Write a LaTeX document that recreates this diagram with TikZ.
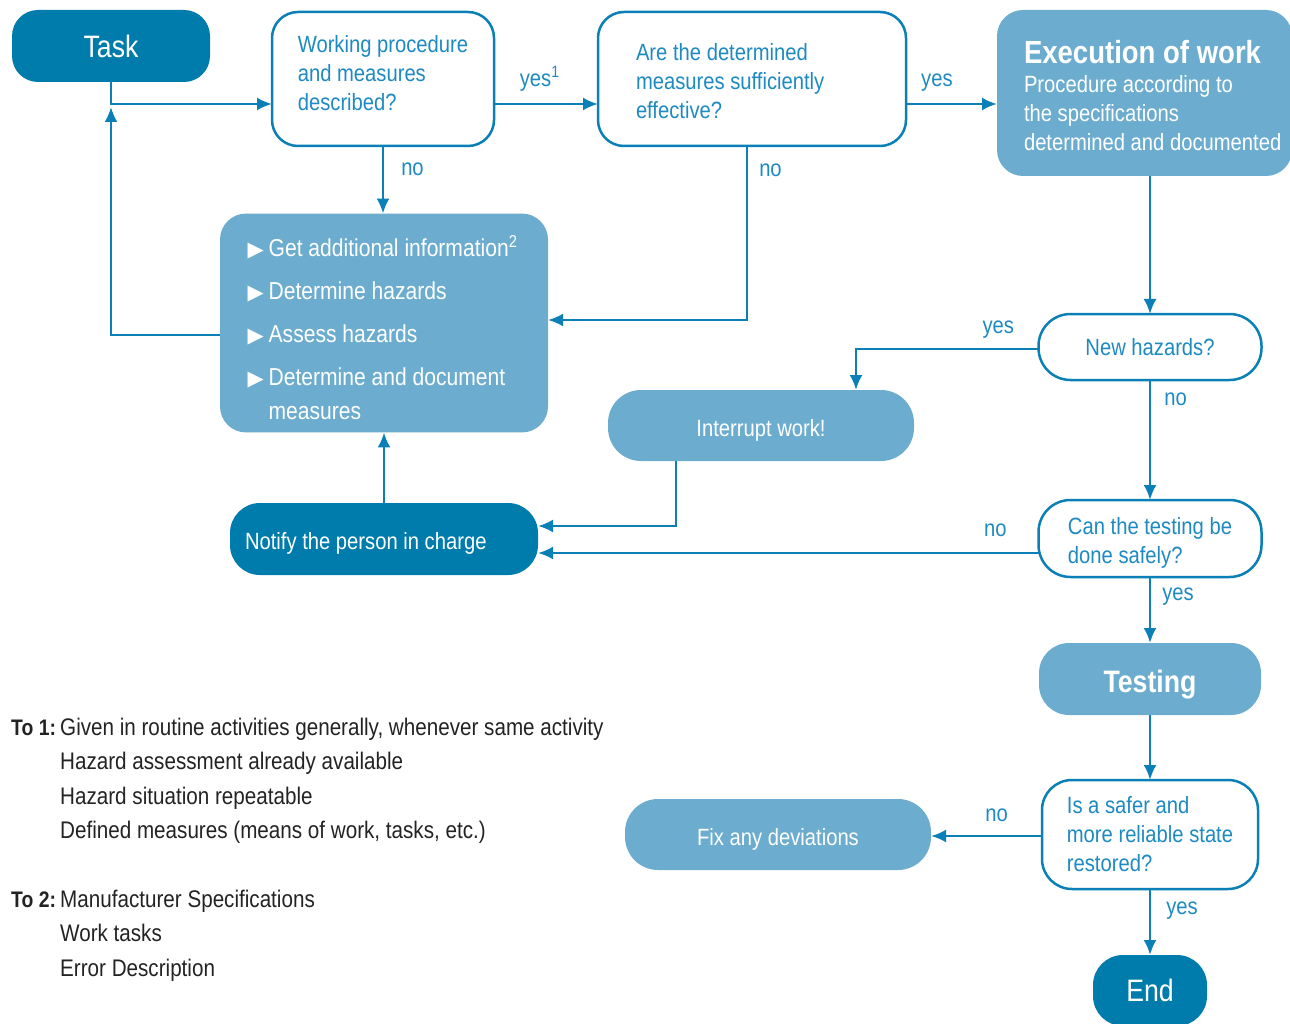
\documentclass[tikz,border=0pt]{standalone}
\usepackage{fontspec}
\setmainfont[FakeStretch=0.86]{Liberation Sans}
\newfontfamily\symfont{DejaVu Sans}
\usetikzlibrary{arrows.meta}
\definecolor{dblue}{RGB}{0,124,172}
\definecolor{lblue}{RGB}{108,173,207}
\definecolor{lineblue}{RGB}{11,128,182}
\definecolor{tblue}{RGB}{30,138,194}
\definecolor{ftext}{RGB}{35,35,35}
\begin{document}
\begin{tikzpicture}[x=1pt,y=-1pt,
  base/.style={rounded corners=26pt, inner sep=0pt, outer sep=0pt},
  darkbox/.style={base, fill=dblue, text=white},
  lightbox/.style={base, fill=lblue, text=white},
  qbox/.style={base, draw=lineblue, line width=2.5pt, fill=white, text=tblue, align=left},
  txt/.style={font=\fontsize{23.5}{29}\selectfont},
  big/.style={font=\fontsize{31}{31}\selectfont},
  flow/.style={draw=lineblue, line width=2.5pt, -{Latex[length=15pt,width=13pt]}},
  lab/.style={text=tblue, font=\fontsize{23.5}{29}\selectfont, inner sep=1pt},
  foot/.style={text=ftext, font=\fontsize{24}{34.6}\selectfont, inner sep=0pt, align=left}
]
\useasboundingbox (0,0) rectangle (1290,1024);
\clip (0,0) rectangle (1290,1024);

% coordinates for connector rows / columns
\coordinate (r104) at (0,104);
\coordinate (r107) at (0,107);
\coordinate (r335) at (0,335);
\coordinate (r320) at (0,320);
\coordinate (r349) at (0,349);
\coordinate (r526) at (0,526);
\coordinate (r553) at (0,553);
\coordinate (r836) at (0,836);
\coordinate (c856) at (856,0);
\coordinate (c676) at (676,0);
\coordinate (c747) at (747,0);
\coordinate (c1150) at (1150,0);

% nodes
\node[darkbox, big, minimum width=198pt, minimum height=72pt] (task) at (111,46) {Task};
\node[qbox, txt, minimum width=222pt, minimum height=134pt] (wp) at (383,79) {Working procedure\\and measures\\described?\rule[-13pt]{0pt}{0pt}};
\node[qbox, txt, text width=232pt, inner xsep=38pt, minimum height=134pt] (ared) at (752,79) {\spaceskip=0pt\relax\rule{0pt}{22pt}Are the determined\\measures sufficiently\\effective?};
\node[lightbox, txt, align=left, text width=241pt, inner xsep=27pt, minimum height=166pt, anchor=north west] (exec) at (997,10)
  {\spaceskip=0pt\relax\rule{0pt}{28pt}\mbox{\fontsize{32}{29}\selectfont\bfseries Execution of work}\\Procedure according to\\the specifications\\\mbox{determined and documented}};
\node[lightbox, align=left, font=\fontsize{24.5}{43}\selectfont, minimum width=328pt, minimum height=218pt] (meas) at (384,323)
  {\begin{tabular}{@{}l@{\hspace{5pt}}l@{}}
   \rule{0pt}{43pt}\hspace{-3pt}{\symfont\fontsize{21}{21}\selectfont ▶} & Get additional information\textsuperscript{2}\\
   \hspace{-3pt}{\symfont\fontsize{21}{21}\selectfont ▶} & Determine hazards\\
   \hspace{-3pt}{\symfont\fontsize{21}{21}\selectfont ▶} & Assess hazards\\
   \hspace{-3pt}{\symfont\fontsize{21}{21}\selectfont ▶} & Determine and document\\[-9pt]
    & measures
   \end{tabular}};
\node[qbox, txt, align=center, minimum width=223pt, minimum height=66pt, rounded corners=32pt] (newh) at (1150,347) {New hazards?};
\node[lightbox, txt, text height=21pt, text depth=0pt, minimum width=306pt, minimum height=71pt, rounded corners=33pt] (intr) at (761,425.5) {Interrupt work!};
\node[darkbox, txt, align=left, text width=278pt, inner xsep=15pt, minimum height=72pt, rounded corners=30pt] (notify) at (384,539) {\spaceskip=0pt\relax\rule{0pt}{25pt}Notify the person in charge};
\node[qbox, txt, minimum width=223pt, minimum height=77pt, rounded corners=32pt] (canst) at (1150,538.5) {\rule{0pt}{26pt}Can the testing be\\done safely?};
\node[lightbox, font=\fontsize{31}{31}\selectfont\bfseries, text height=26pt, text depth=0pt, minimum width=222pt, minimum height=72pt, rounded corners=30pt] (test) at (1150,679) {Testing};
\node[qbox, txt, minimum width=216pt, minimum height=109pt, rounded corners=30pt] (safer) at (1150,834.5) {Is a safer and\\more reliable state\\restored?};
\node[lightbox, txt, text height=22pt, text depth=0pt, minimum width=306pt, minimum height=71pt, rounded corners=33pt] (fix) at (778,834.5) {Fix any deviations};
\node[darkbox, big, minimum width=114pt, minimum height=71pt, rounded corners=30pt] (end) at (1150,990.5) {End};

% connectors
\draw[flow] (task.south) |- (wp.west |- r104);
\draw[flow] (meas.west |- r335) -| (task.south |- r107);
\draw[flow] (wp.east |- r104) -- node[lab, pos=0.44, above=10pt] (l1) {yes\textsuperscript{1}} (ared.west |- r104);
\draw[flow] (ared.east |- r104) -- node[lab, pos=0.34, above=10pt] (l2) {yes} (exec.west |- r104);
\draw[flow] (wp.south) -- node[lab, pos=0.35, right=16pt] (l3) {no} (wp.south |- meas.north);
\draw[flow] (c747 |- ared.south) -- node[lab, pos=0.14, right=10pt] (l4) {no} (c747 |- r320) -- (meas.east |- r320);
\draw[flow] (exec.south -| c1150) -- (newh.north);
\draw[flow] (newh.west |- r349) -| node[lab, pos=0.11, above=8pt] (l5) {yes} (c856 |- intr.north);
\draw[flow] (newh.south) -- node[lab, pos=0.16, right=12pt] (l6) {no} (canst.north);
\draw[flow] (c676 |- intr.south) |- (notify.east |- r526);
\draw[flow] (canst.west |- r553) -- node[lab, pos=0.086, above=14pt] (l7) {no} (notify.east |- r553);
\draw[flow] (notify.north) -- (notify.north |- meas.south);
\draw[flow] (canst.south) -- node[lab, pos=0.3, right=10pt] (l8) {yes} (test.north);
\draw[flow] (test.south) -- (safer.north);
\draw[flow] (safer.west |- r836) -- node[lab, pos=0.41, above=12pt] (l9) {no} (fix.east |- r836);
\draw[flow] (safer.south) -- node[lab, pos=0.33, right=14pt] (l10) {yes} (end.north);

% footnotes
\node[foot, anchor=base west] (fn1) at (11,735)
  {\begin{tabular}[t]{@{}p{49pt}@{}l@{}}
   {\fontsize{22.5}{34.6}\selectfont\bfseries To 1:} & Given in routine activities generally, whenever same activity\\
    & Hazard assessment already available\\
    & Hazard situation repeatable\\
    & Defined measures (means of work, tasks, etc.)
   \end{tabular}};
\node[foot, anchor=base west] (fn2) at (11,907)
  {\begin{tabular}[t]{@{}p{49pt}@{}l@{}}
   {\fontsize{22.5}{34.6}\selectfont\bfseries To 2:} & Manufacturer Specifications\\
    & Work tasks\\
    & Error Description
   \end{tabular}};
\end{tikzpicture}
\end{document}
